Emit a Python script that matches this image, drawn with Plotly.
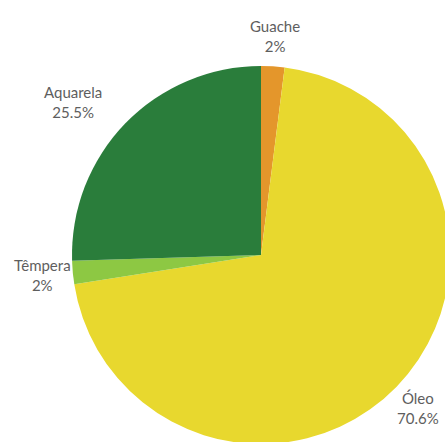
import math
import plotly.graph_objects as go

labels = ["Guache", "Óleo", "Têmpera", "Aquarela"]
values = [2, 70.6, 2, 25.5]
colors = ["#E4962B", "#E8D82E", "#8DC843", "#2A7D3B"]
label_align = ["center", "center", "center", "right"]

# figure geometry (pixels)
W, H = 450, 444          # slightly larger than window; overflow is clipped
CX, CY, R = 261, 255, 189
DIST = 30

fig = go.Figure(go.Pie(
    labels=labels,
    values=values,
    sort=False,
    direction="clockwise",
    rotation=0,
    marker=dict(colors=colors, line=dict(width=0)),
    textinfo="none",
    domain=dict(x=[(CX - R) / W, (CX + R) / W],
                y=[1 - (CY + R) / H, 1 - (CY - R) / H]),
    showlegend=False,
    hoverinfo="label+percent",
))

total = sum(values)
cum = 0.0
annotations = []
for lab, val, al in zip(labels, values, label_align):
    mid = (cum + val / 2) / total * 2 * math.pi
    cum += val
    px = CX + (R + DIST) * math.sin(mid)
    py = CY - (R + DIST) * math.cos(mid)
    annotations.append(dict(
        x=px / W, y=1 - py / H, xref="paper", yref="paper",
        text=f"{lab}<br>{val:g}%", showarrow=False,
        xanchor=al, yanchor="middle", align="center",
        font=dict(family="Lato", size=15, color="#5e5e5e"),
    ))

fig.update_layout(
    width=W, height=H,
    margin=dict(l=0, r=0, t=0, b=0),
    paper_bgcolor="white",
    plot_bgcolor="white",
    annotations=annotations,
)
fig.write_html(
    "out.html",
    post_script=(
        "for (const el of [document.documentElement, document.body]) {"
        "el.style.margin='0'; el.style.padding='0'; el.style.overflow='hidden';"
        "el.style.width='445px'; el.style.height='442px';}"
    ),
)
